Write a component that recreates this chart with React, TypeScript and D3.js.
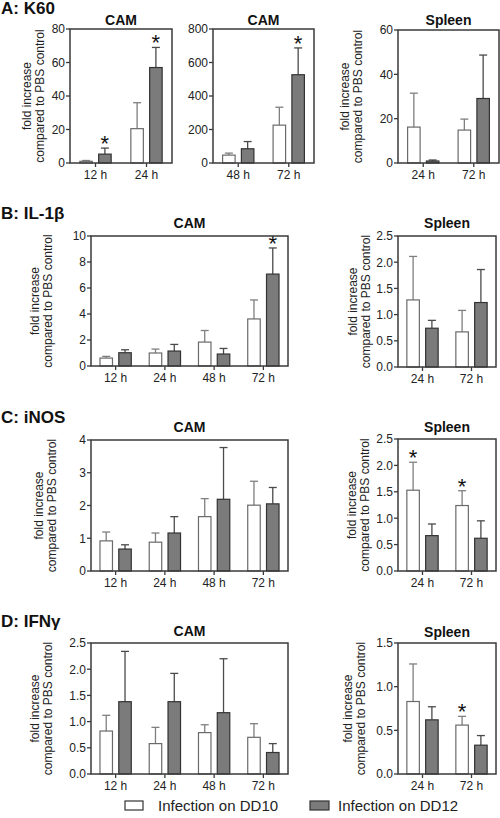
import React from "react";
import * as d3 from "d3";

// ---------- DATA ----------
// A: K60
const aCam1Times = ["12 h", "24 h"];
const aCam1DD10 = [1.0, 20.5];
const aCam1DD10Err = [0.5, 15.5];
const aCam1DD12 = [5.3, 57];
const aCam1DD12Err = [3.6, 12];
const aCam1Star10 = [false, false];
const aCam1Star12 = [true, true];

const aCam2Times = ["48 h", "72 h"];
const aCam2DD10 = [47, 226];
const aCam2DD10Err = [12, 107];
const aCam2DD12 = [85, 527];
const aCam2DD12Err = [43, 160];
const aCam2Star10 = [false, false];
const aCam2Star12 = [false, true];

const aSplTimes = ["24 h", "72 h"];
const aSplDD10 = [16.2, 14.85];
const aSplDD10Err = [15.3, 4.95];
const aSplDD12 = [0.9, 29.1];
const aSplDD12Err = [0.45, 19.6];
const aSplStar10 = [false, false];
const aSplStar12 = [false, false];

// B: IL-1beta
const bCamTimes = ["12 h", "24 h", "48 h", "72 h"];
const bCamDD10 = [0.61, 1.0, 1.84, 3.62];
const bCamDD10Err = [0.13, 0.3, 0.89, 1.46];
const bCamDD12 = [1.02, 1.15, 0.92, 7.07];
const bCamDD12Err = [0.23, 0.51, 0.43, 2.01];
const bCamStar10 = [false, false, false, false];
const bCamStar12 = [false, false, false, true];

const bSplTimes = ["24 h", "72 h"];
const bSplDD10 = [1.28, 0.67];
const bSplDD10Err = [0.83, 0.41];
const bSplDD12 = [0.74, 1.23];
const bSplDD12Err = [0.15, 0.63];
const bSplStar10 = [false, false];
const bSplStar12 = [false, false];

// C: iNOS
const cCamTimes = ["12 h", "24 h", "48 h", "72 h"];
const cCamDD10 = [0.92, 0.88, 1.66, 2.01];
const cCamDD10Err = [0.27, 0.28, 0.55, 0.73];
const cCamDD12 = [0.67, 1.16, 2.19, 2.05];
const cCamDD12Err = [0.13, 0.5, 1.58, 0.5];
const cCamStar10 = [false, false, false, false];
const cCamStar12 = [false, false, false, false];

const cSplTimes = ["24 h", "72 h"];
const cSplDD10 = [1.53, 1.24];
const cSplDD10Err = [0.53, 0.28];
const cSplDD12 = [0.67, 0.62];
const cSplDD12Err = [0.22, 0.33];
const cSplStar10 = [true, true];
const cSplStar12 = [false, false];

// D: IFN-gamma
const dCamTimes = ["12 h", "24 h", "48 h", "72 h"];
const dCamDD10 = [0.82, 0.58, 0.79, 0.7];
const dCamDD10Err = [0.3, 0.31, 0.15, 0.26];
const dCamDD12 = [1.38, 1.38, 1.17, 0.41];
const dCamDD12Err = [0.96, 0.54, 1.03, 0.17];
const dCamStar10 = [false, false, false, false];
const dCamStar12 = [false, false, false, false];

const dSplTimes = ["24 h", "72 h"];
const dSplDD10 = [0.83, 0.56];
const dSplDD10Err = [0.43, 0.1];
const dSplDD12 = [0.62, 0.33];
const dSplDD12Err = [0.15, 0.11];
const dSplStar10 = [false, true];
const dSplStar12 = [false, false];

const panelLabels = ["A: K60", "B: IL-1β", "C: iNOS", "D: IFNγ"];
const legendLabels = ["Infection on DD10", "Infection on DD12"];
const yLabelLines = ["fold increase", "compared to PBS control"];

// ---------- LAYOUT ----------
const FONT = "'Liberation Sans', Arial, Helvetica, sans-serif";
const WHITE_FILL = "#ffffff";
const GREY_FILL = "#7b7b7b";

type Panel = {
  title: string;
  cats: string[];
  w: number[]; we: number[]; g: number[]; ge: number[];
  ws: boolean[]; gs: boolean[];
  max: number; step: number; dec: number;
  x0: number; x1: number; y0: number; y1: number;
  labelX: number | null;
  titleY: number;
};

const panels: Panel[] = [
  { title: "CAM", cats: aCam1Times, w: aCam1DD10, we: aCam1DD10Err, g: aCam1DD12, ge: aCam1DD12Err, ws: aCam1Star10, gs: aCam1Star12,
    max: 80, step: 20, dec: 0, x0: 70, x1: 172, y0: 29, y1: 163, labelX: 32, titleY: 25 },
  { title: "CAM", cats: aCam2Times, w: aCam2DD10, we: aCam2DD10Err, g: aCam2DD12, ge: aCam2DD12Err, ws: aCam2Star10, gs: aCam2Star12,
    max: 800, step: 200, dec: 0, x0: 213, x1: 314, y0: 29, y1: 163, labelX: null, titleY: 25 },
  { title: "Spleen", cats: aSplTimes, w: aSplDD10, we: aSplDD10Err, g: aSplDD12, ge: aSplDD12Err, ws: aSplStar10, gs: aSplStar12,
    max: 60, step: 20, dec: 0, x0: 398, x1: 499, y0: 30, y1: 163, labelX: 350, titleY: 25 },
  { title: "CAM", cats: bCamTimes, w: bCamDD10, we: bCamDD10Err, g: bCamDD12, ge: bCamDD12Err, ws: bCamStar10, gs: bCamStar12,
    max: 10, step: 2, dec: 0, x0: 91, x1: 288, y0: 236, y1: 366, labelX: 40, titleY: 228 },
  { title: "Spleen", cats: bSplTimes, w: bSplDD10, we: bSplDD10Err, g: bSplDD12, ge: bSplDD12Err, ws: bSplStar10, gs: bSplStar12,
    max: 2.5, step: 0.5, dec: 1, x0: 398, x1: 496, y0: 236, y1: 367, labelX: 358, titleY: 228 },
  { title: "CAM", cats: cCamTimes, w: cCamDD10, we: cCamDD10Err, g: cCamDD12, ge: cCamDD12Err, ws: cCamStar10, gs: cCamStar12,
    max: 4, step: 1, dec: 0, x0: 91, x1: 288, y0: 440, y1: 571, labelX: 44, titleY: 432 },
  { title: "Spleen", cats: cSplTimes, w: cSplDD10, we: cSplDD10Err, g: cSplDD12, ge: cSplDD12Err, ws: cSplStar10, gs: cSplStar12,
    max: 2.5, step: 0.5, dec: 1, x0: 398, x1: 496, y0: 439, y1: 571, labelX: 357, titleY: 432 },
  { title: "CAM", cats: dCamTimes, w: dCamDD10, we: dCamDD10Err, g: dCamDD12, ge: dCamDD12Err, ws: dCamStar10, gs: dCamStar12,
    max: 2.5, step: 0.5, dec: 1, x0: 91, x1: 288, y0: 643, y1: 774, labelX: 40, titleY: 636 },
  { title: "Spleen", cats: dSplTimes, w: dSplDD10, we: dSplDD10Err, g: dSplDD12, ge: dSplDD12Err, ws: dSplStar10, gs: dSplStar12,
    max: 1.5, step: 0.5, dec: 1, x0: 398, x1: 496, y0: 643, y1: 774, labelX: 353, titleY: 637 },
];

const panelLabelY = [14, 219, 423, 627];

const BAR_W = 12.5;
const GAP = 6.3;
const CAP = 8;
const AXIS = "#3a3a3a";

function PanelView({ p }: { p: Panel }) {
  const x = d3.scaleBand<string>().domain(p.cats).range([p.x0, p.x1]).paddingInner(0).paddingOuter(0);
  const y = d3.scaleLinear().domain([0, p.max]).range([p.y1, p.y0]);
  const ticks = d3.range(0, p.max + p.step / 2, p.step);
  const fmt = d3.format(p.dec ? ".1f" : "d");
  const cy = (p.y0 + p.y1) / 2;

  const bars: React.ReactNode[] = [];
  p.cats.forEach((c, i) => {
    const cx = (x(c) as number) + x.bandwidth() / 2;
    const series = [
      { v: p.w[i], e: p.we[i], s: p.ws[i], left: cx - GAP / 2 - BAR_W, fill: WHITE_FILL, stroke: "#6a6a6a", eb: "#7f7f7f" },
      { v: p.g[i], e: p.ge[i], s: p.gs[i], left: cx + GAP / 2, fill: GREY_FILL, stroke: "#333", eb: "#4a4a4a" },
    ];
    series.forEach((s, k) => {
      const mid = s.left + BAR_W / 2;
      const top = y(s.v);
      const et = y(s.v + s.e);
      bars.push(
        <g key={`${c}-${k}`}>
          <line x1={mid} x2={mid} y1={top} y2={et} stroke={s.eb} strokeWidth={1.3} />
          <line x1={mid - CAP / 2} x2={mid + CAP / 2} y1={et} y2={et} stroke={s.eb} strokeWidth={1.3} />
          <rect x={s.left} y={top} width={BAR_W} height={p.y1 - top} fill={s.fill} stroke={s.stroke} strokeWidth={1.2} />
          {s.s && (
            <text x={mid} y={et + 3} textAnchor="middle" fontSize={22} fontFamily={FONT} fill="#111">*</text>
          )}
        </g>
      );
    });
  });

  return (
    <g>
      <text x={(p.x0 + p.x1) / 2} y={p.titleY} textAnchor="middle" fontSize={14} fontWeight="bold" fontFamily={FONT} fill="#111">
        {p.title}
      </text>
      {bars}
      <rect x={p.x0} y={p.y0} width={p.x1 - p.x0} height={p.y1 - p.y0} fill="none" stroke={AXIS} strokeWidth={1.5} />
      {ticks.map((t) => (
        <g key={t}>
          <line x1={p.x0 - 4} x2={p.x0} y1={y(t)} y2={y(t)} stroke={AXIS} strokeWidth={1.3} />
          <text x={p.x0 - 5} y={y(t) + 4.3} textAnchor="end" fontSize={12} fontFamily={FONT} fill="#222">
            {fmt(t)}
          </text>
        </g>
      ))}
      {p.cats.map((c) => {
        const cx = (x(c) as number) + x.bandwidth() / 2;
        return (
          <g key={c}>
            <line x1={cx} x2={cx} y1={p.y1} y2={p.y1 + 4} stroke={AXIS} strokeWidth={1.3} />
            <text x={cx} y={p.y1 + 16} textAnchor="middle" fontSize={12} fontFamily={FONT} fill="#222">
              {c}
            </text>
          </g>
        );
      })}
      {p.labelX !== null && (
        <text transform={`translate(${p.labelX},${cy}) rotate(-90)`} textAnchor="middle" fontSize={12} fontFamily={FONT} fill="#222">
          <tspan x={0} y={-1}>{yLabelLines[0]}</tspan>
          <tspan x={0} y={12}>{yLabelLines[1]}</tspan>
        </text>
      )}
    </g>
  );
}

export default function App() {
  return (
    <svg width={500} height={818} style={{ position: "absolute", left: 0, top: 0, background: "#fff" }} xmlns="http://www.w3.org/2000/svg">
      <rect x={0} y={0} width={500} height={818} fill="#fff" />
      {panelLabels.map((l, i) => (
        <text key={l} x={1} y={panelLabelY[i]} fontSize={17} fontWeight="bold" fontFamily={FONT} fill="#111">
          {l}
        </text>
      ))}
      {panels.map((p, i) => (
        <PanelView key={i} p={p} />
      ))}
      <rect x={125} y={801} width={18} height={9} fill={WHITE_FILL} stroke="#333" strokeWidth={1.2} />
      <text x={158} y={811} fontSize={15} fontFamily={FONT} fill="#222">{legendLabels[0]}</text>
      <rect x={310} y={801} width={19} height={9} fill={GREY_FILL} stroke="#333" strokeWidth={1.2} />
      <text x={338} y={811} fontSize={15} fontFamily={FONT} fill="#222">{legendLabels[1]}</text>
    </svg>
  );
}
